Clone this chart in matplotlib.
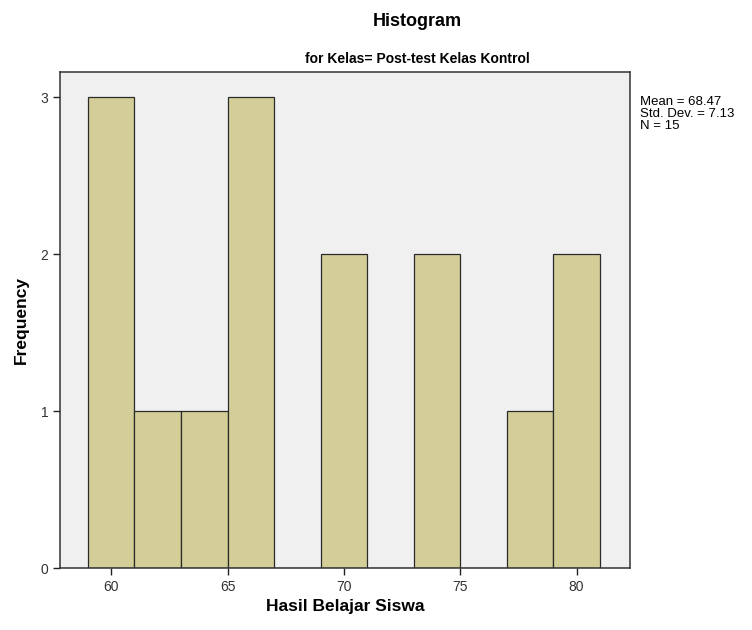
import matplotlib.pyplot as plt

# Histogram data (bin edges and frequencies)
bin_edges = [59, 61, 63, 65, 67, 69, 71, 73, 75, 77, 79, 81]
counts = [3, 1, 1, 3, 0, 2, 0, 2, 0, 1, 2]
x_ticks = [60, 65, 70, 75, 80]
y_ticks = [0, 1, 2, 3]
stats_text = "Mean = 68.47\nStd. Dev. = 7.13\nN = 15"

plt.rcParams['font.family'] = ['Liberation Sans', 'DejaVu Sans']

fig = plt.figure(figsize=(7.52, 6.30), dpi=100)
ax = fig.add_axes([0.0798, 0.0984, 0.758, 0.787])
ax.set_facecolor('#F0F0F0')

widths = [bin_edges[i + 1] - bin_edges[i] for i in range(len(counts))]
ax.bar(bin_edges[:-1], counts, width=widths, align='edge',
       color='#D3CE98', edgecolor='#2a2a2a', linewidth=0.9)

ax.set_xlim(57.8, 82.3)
ax.set_ylim(0, 3.16)
ax.set_xticks(x_ticks)
ax.set_yticks(y_ticks)
ax.tick_params(direction='out', length=5, width=1, labelsize=10,
               labelcolor='#333333', color='#222222')

for side in ['left', 'bottom', 'right', 'top']:
    ax.spines[side].set_color('#333333')
    ax.spines[side].set_linewidth(1.1)

ax.set_xlabel('Hasil Belajar Siswa', fontsize=12.5, fontweight='bold', labelpad=4)
ax.set_ylabel('Frequency', fontsize=12.5, fontweight='bold', labelpad=8)

fig.text(0.555, 0.966, 'Histogram', ha='center', va='center',
         fontsize=13, fontweight='bold')
fig.text(0.555, 0.907, 'for Kelas= Post-test Kelas Kontrol', ha='center',
         va='center', fontsize=10, fontweight='bold')
fig.text(0.851, 0.848, stats_text, ha='left', va='top', fontsize=9.5,
         linespacing=1.0)

plt.savefig('out.png', dpi=100)
